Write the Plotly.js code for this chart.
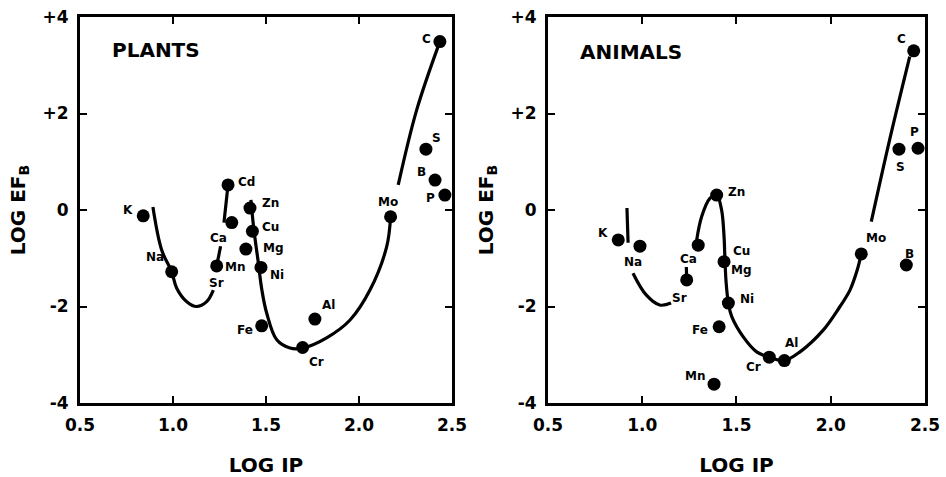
<!DOCTYPE html>
<html>
<head>
<meta charset="utf-8">
<script src="https://cdn.plot.ly/plotly-3.0.1.min.js"></script>
<style>html,body{margin:0;padding:0;background:#fff;}#chart{width:946px;height:477px;}</style>
</head>
<body>
<div id="chart"></div>
<script>
// ---------- DATA ----------
const xTickVals = [0.5, 1.0, 1.5, 2.0, 2.5];
const xTickText = ['0.5', '1.0', '1.5', '2.0', '2.5'];
const yTickVals = [-4, -2, 0, 2, 4];
const yTickText = ['-4', '-2', '0', '+2', '+4'];

// Plants: element points (log IP, log EF_B)
const plantNames = ['K', 'Na', 'Cd', 'Ca', 'Mn', 'Zn', 'Cu', 'Mg', 'Ni', 'Fe', 'Cr', 'Al', 'Mo', 'C', 'S', 'B', 'P'];
const plantX = [0.840, 0.993, 1.296, 1.316, 1.235, 1.414, 1.427, 1.392, 1.473, 1.477, 1.697, 1.763, 2.170, 2.435, 2.360, 2.409, 2.462];
const plantY = [-0.12, -1.28, 0.52, -0.26, -1.16, 0.04, -0.44, -0.81, -1.19, -2.40, -2.85, -2.26, -0.14, 3.49, 1.26, 0.62, 0.31];

// Plants: hand-drawn trend curves
const plantCurveNaX = [0.892, 0.939, 0.993, 1.020, 1.074, 1.127, 1.181, 1.217];
const plantCurveNaY = [0.06, -0.83, -1.28, -1.62, -1.90, -2.00, -1.90, -1.66];
const plantCurveCdX = [1.296, 1.274];
const plantCurveCdY = [0.52, -0.26];
const plantCurveMnX = [1.256, 1.235];
const plantCurveMnY = [-0.75, -1.16];
const plantCurveMainX = [1.419, 1.435, 1.457, 1.478, 1.504, 1.558, 1.629, 1.699, 1.826, 1.952, 2.059, 2.149, 2.170];
const plantCurveMainY = [0.21, -0.41, -1.04, -1.66, -2.14, -2.69, -2.86, -2.86, -2.65, -2.28, -1.66, -0.76, -0.14];
const plantCurveCX = [2.211, 2.310, 2.435];
const plantCurveCY = [0.52, 2.07, 3.49];

// Plants: label texts and their positions
const plantLabelText = ['K', 'Na', 'Cd', 'Zn', 'Cu', 'Mg', 'Ca', 'Mn', 'Ni', 'Sr', 'Fe', 'Al', 'Cr', 'Mo', 'C', 'S', 'B', 'P'];
const plantLabelX = [0.760, 0.903, 1.396, 1.522, 1.525, 1.539, 1.244, 1.333, 1.558, 1.235, 1.387, 1.835, 1.773, 2.158, 2.364, 2.418, 2.337, 2.382];
const plantLabelY = [0.01, -0.98, 0.59, 0.15, -0.35, -0.79, -0.59, -1.18, -1.35, -1.52, -2.49, -1.97, -3.14, 0.17, 3.54, 1.49, 0.79, 0.24];

// Animals: element points
const animalNames = ['K', 'Na', 'Ca', 'Sr', 'Zn', 'Cu', 'Ni', 'Fe', 'Mn', 'Cr', 'Al', 'Mo', 'C', 'S', 'P', 'B'];
const animalX = [0.873, 0.988, 1.297, 1.236, 1.395, 1.434, 1.457, 1.408, 1.381, 1.674, 1.754, 2.162, 2.440, 2.362, 2.463, 2.401];
const animalY = [-0.62, -0.75, -0.73, -1.45, 0.31, -1.07, -1.93, -2.42, -3.61, -3.05, -3.12, -0.91, 3.30, 1.26, 1.28, -1.14];

// Animals: trend curves
const animalCurveKX = [0.919, 0.925];
const animalCurveKY = [0.04, -0.68];
const animalCurveNaX = [0.951, 1.021, 1.093, 1.153];
const animalCurveNaY = [-1.31, -1.76, -1.97, -1.93];
const animalCurveCaX = [1.234, 1.236];
const animalCurveCaY = [-1.18, -1.45];
const animalCurveMainX = [1.289, 1.315, 1.359, 1.395, 1.421, 1.434, 1.439, 1.445, 1.457, 1.475, 1.536, 1.607, 1.674, 1.754, 1.837, 1.960, 2.049, 2.102, 2.140, 2.162];
const animalCurveMainY = [-0.62, -0.14, 0.24, 0.31, 0.00, -0.55, -1.04, -1.50, -1.93, -2.21, -2.63, -2.94, -3.05, -3.12, -2.94, -2.49, -2.00, -1.66, -1.25, -0.91];
const animalCurveCX = [2.215, 2.312, 2.419];
const animalCurveCY = [-0.24, 1.45, 3.18];

// Animals: label texts and positions
const animalLabelText = ['K', 'Na', 'Ca', 'Sr', 'Zn', 'Cu', 'Mg', 'Ni', 'Fe', 'Mn', 'Cr', 'Al', 'Mo', 'B', 'S', 'P', 'C'];
const animalLabelX = [0.793, 0.953, 1.244, 1.199, 1.501, 1.528, 1.528, 1.554, 1.306, 1.280, 1.589, 1.793, 2.242, 2.419, 2.369, 2.445, 2.374];
const animalLabelY = [-0.48, -1.07, -1.02, -1.83, 0.38, -0.84, -1.24, -1.85, -2.49, -3.44, -3.25, -2.76, -0.57, -0.91, 0.90, 1.62, 3.54];

const panelTitles = ['PLANTS', 'ANIMALS'];
const panelTitleX = [0.911, 0.940];
const panelTitleY = [3.32, 3.27];

// ---------- STYLE ----------
const FONT = 'DejaVu Sans';
const INK = '#000000';
const lineStyle = {color: INK, width: 3.2, shape: 'spline', smoothing: 1};
const markerStyle = {color: INK, size: 13};

function curve(x, y, xa, ya) {
  return {x: x, y: y, xaxis: xa, yaxis: ya, mode: 'lines', line: lineStyle, hoverinfo: 'skip', showlegend: false};
}
function points(x, y, names, xa, ya) {
  return {x: x, y: y, text: names, xaxis: xa, yaxis: ya, mode: 'markers', marker: markerStyle, hoverinfo: 'text+x+y', showlegend: false};
}

const traces = [
  curve(plantCurveNaX, plantCurveNaY, 'x', 'y'),
  curve(plantCurveCdX, plantCurveCdY, 'x', 'y'),
  curve(plantCurveMnX, plantCurveMnY, 'x', 'y'),
  curve(plantCurveMainX, plantCurveMainY, 'x', 'y'),
  curve(plantCurveCX, plantCurveCY, 'x', 'y'),
  points(plantX, plantY, plantNames, 'x', 'y'),
  curve(animalCurveKX, animalCurveKY, 'x2', 'y2'),
  curve(animalCurveNaX, animalCurveNaY, 'x2', 'y2'),
  curve(animalCurveCaX, animalCurveCaY, 'x2', 'y2'),
  curve(animalCurveMainX, animalCurveMainY, 'x2', 'y2'),
  curve(animalCurveCX, animalCurveCY, 'x2', 'y2'),
  points(animalX, animalY, animalNames, 'x2', 'y2')
];

const annotations = [];
function addLabels(texts, xs, ys, xref, yref) {
  for (let i = 0; i < texts.length; i++) {
    annotations.push({text: texts[i], x: xs[i], y: ys[i], xref: xref, yref: yref,
      showarrow: false, xanchor: 'center', yanchor: 'middle',
      font: {family: FONT, size: 12, color: INK, weight: 'bold'}});
  }
}
addLabels(plantLabelText, plantLabelX, plantLabelY, 'x', 'y');
addLabels(animalLabelText, animalLabelX, animalLabelY, 'x2', 'y2');
['x', 'x2'].forEach(function (xr, i) {
  annotations.push({text: panelTitles[i], x: panelTitleX[i], y: panelTitleY[i], xref: xr, yref: i ? 'y2' : 'y',
    showarrow: false, xanchor: 'center', yanchor: 'middle',
    font: {family: FONT, size: 20, color: INK, weight: 'bold'}});
});

const tickFont = {family: FONT, size: 17, color: INK, weight: 'bold'};
const titleFont = {family: FONT, size: 20, color: INK, weight: 'bold'};

function xAxis(domain, anchor) {
  return {domain: domain, anchor: anchor, range: [0.5, 2.5], tickmode: 'array', tickvals: xTickVals, ticktext: xTickText,
    ticks: 'inside', ticklen: 7, tickwidth: 2, tickcolor: INK, showline: true, linewidth: 3, linecolor: INK,
    mirror: 'ticks', showgrid: false, zeroline: false, tickfont: tickFont, ticklabelstandoff: 5,
    title: {text: 'LOG IP', font: titleFont, standoff: 24}};
}
function yAxis(anchor) {
  return {domain: [0, 1], anchor: anchor, range: [-4, 4], tickmode: 'array', tickvals: yTickVals, ticktext: yTickText,
    ticks: 'inside', ticklen: 7, tickwidth: 2, tickcolor: INK, showline: true, linewidth: 3, linecolor: INK,
    mirror: 'ticks', showgrid: false, zeroline: false, tickfont: tickFont, ticklabelstandoff: 5,
    title: {text: 'LOG EF<sub>B</sub>', font: titleFont, standoff: 12}};
}

const layout = {
  width: 946, height: 477,
  margin: {l: 80, r: 21, t: 17, b: 74},
  paper_bgcolor: '#ffffff', plot_bgcolor: '#ffffff',
  showlegend: false,
  xaxis: xAxis([0, 0.4402], 'y'),
  yaxis: yAxis('x'),
  xaxis2: xAxis([0.5538, 1.0], 'y2'),
  yaxis2: yAxis('x2'),
  annotations: annotations
};

Plotly.newPlot('chart', traces, layout, {displayModeBar: false, staticPlot: true});
</script>
</body>
</html>
